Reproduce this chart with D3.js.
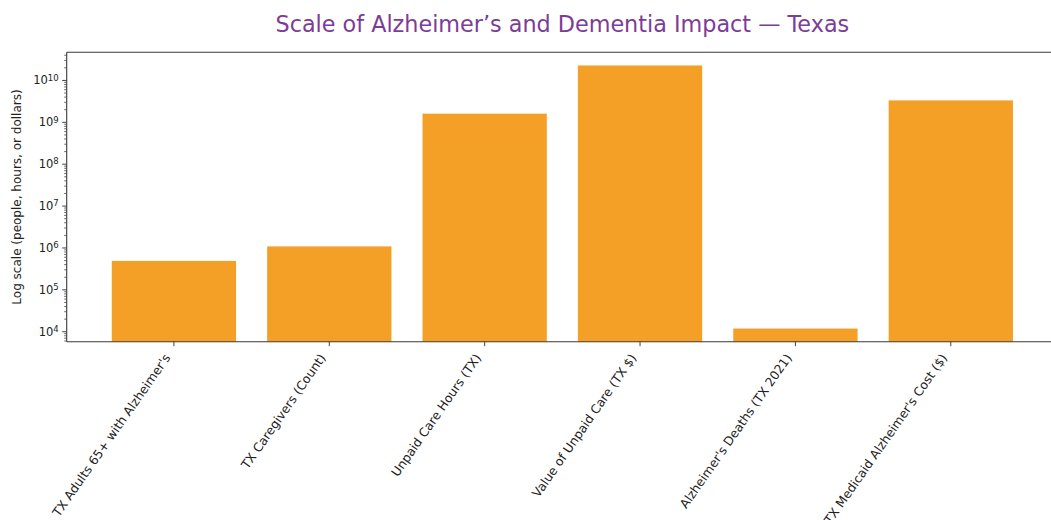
<!DOCTYPE html>
<html>
<head>
<meta charset="utf-8">
<script src="https://cdn.jsdelivr.net/npm/d3@7"></script>
<style>
  body { margin: 0; background: #fff; }
  svg { display: block; font-family: "DejaVu Sans", sans-serif; }
</style>
</head>
<body>
<svg id="chart" width="1051" height="520"></svg>
<script>
const categories = [
    "TX Adults 65+ with Alzheimer's",
    "TX Caregivers (Count)",
    "Unpaid Care Hours (TX)",
    "Value of Unpaid Care (TX $)",
    "Alzheimer's Deaths (TX 2021)",
    "TX Medicaid Alzheimer's Cost ($)"
];
const values = [491000, 1090000, 1.61e9, 2.28e10, 11900, 3.34e9];
const yTickExponents = [4, 5, 6, 7, 8, 9, 10];

const width = 1051;
const height = 520;
const margin = { top: 52.3, right: -7, bottom: 178.3, left: 66.7 };
const plotW = width - margin.left - margin.right;
const plotH = height - margin.top - margin.bottom;

const svg = d3.select('#chart');

// matplotlib-like autoscale: 5% margin in log space
const lo = Math.log10(d3.min(values));
const hi = Math.log10(d3.max(values));
const pad = (hi - lo) * 0.05;

const x = d3.scaleBand()
    .domain(categories)
    .range([margin.left, margin.left + plotW])
    .paddingInner(0.2)
    .paddingOuter(0.29);

const y = d3.scaleLog()
    .domain([Math.pow(10, lo - pad), Math.pow(10, hi + pad)])
    .range([margin.top + plotH, margin.top]);

const y0 = margin.top + plotH;

// bars
svg.append('g').selectAll('rect')
    .data(values)
    .enter()
    .append('rect')
    .attr('x', (d, i) => x(categories[i]))
    .attr('width', x.bandwidth())
    .attr('y', d => y(d))
    .attr('height', d => y0 - y(d))
    .attr('fill', '#f4a026');

// spines (left, top, bottom; right one falls outside the picture)
const spine = svg.append('g').attr('stroke', '#3a3a3a').attr('stroke-width', 1.1);
spine.append('line').attr('x1', margin.left).attr('x2', margin.left).attr('y1', margin.top).attr('y2', y0);
spine.append('line').attr('x1', margin.left).attr('x2', width).attr('y1', margin.top).attr('y2', margin.top);
spine.append('line').attr('x1', margin.left).attr('x2', width).attr('y1', y0).attr('y2', y0);

// y axis: major + minor ticks
const [dmin, dmax] = y.domain();
const minor = [];
for (let e = Math.floor(Math.log10(dmin)); e <= Math.ceil(Math.log10(dmax)); e++) {
    for (let m = 2; m <= 9; m++) {
        const v = m * Math.pow(10, e);
        if (v >= dmin && v <= dmax) minor.push(v);
    }
}
const yAxis = svg.append('g');
yAxis.selectAll('line.minor')
    .data(minor)
    .enter()
    .append('line')
    .attr('class', 'minor')
    .attr('x1', margin.left - 2.5).attr('x2', margin.left)
    .attr('y1', d => y(d)).attr('y2', d => y(d))
    .attr('stroke', '#444').attr('stroke-width', 0.8);

const major = yAxis.selectAll('g.major')
    .data(yTickExponents)
    .enter()
    .append('g')
    .attr('class', 'major')
    .attr('transform', e => `translate(0,${y(Math.pow(10, e))})`);
major.append('line')
    .attr('x1', margin.left - 4.5).attr('x2', margin.left)
    .attr('stroke', '#444').attr('stroke-width', 1);
const lbl = major.append('text')
    .attr('x', margin.left - 8)
    .attr('dy', '0.35em')
    .attr('text-anchor', 'end')
    .attr('fill', '#222')
    .style('font-size', '11.5px');
lbl.append('tspan').text('10');
lbl.append('tspan')
    .attr('dy', '-0.45em')
    .style('font-size', '8.5px')
    .text(e => e);

// y label
svg.append('text')
    .attr('transform', `translate(21,${margin.top + plotH / 2}) rotate(-90)`)
    .attr('text-anchor', 'middle')
    .attr('fill', '#222')
    .style('font-size', '12px')
    .text('Log scale (people, hours, or dollars)');

// x ticks + rotated labels
const xt = svg.append('g').selectAll('g')
    .data(categories)
    .enter()
    .append('g')
    .attr('transform', d => `translate(${x(d) + x.bandwidth() / 2},${y0})`);
xt.append('line').attr('y2', 4.5).attr('stroke', '#444').attr('stroke-width', 1);
xt.append('text')
    .attr('text-anchor', 'end')
    .attr('transform', 'translate(-3,16) rotate(-55)')
    .attr('fill', '#222')
    .style('font-size', '12.4px')
    .text(d => d);

// title
svg.append('text')
    .attr('x', (margin.left + margin.left + plotW) / 2)
    .attr('y', 32)
    .attr('text-anchor', 'middle')
    .attr('fill', '#7d3c98')
    .style('font-size', '22.3px')
    .text('Scale of Alzheimer\u2019s and Dementia Impact \u2014 Texas');
</script>
</body>
</html>
